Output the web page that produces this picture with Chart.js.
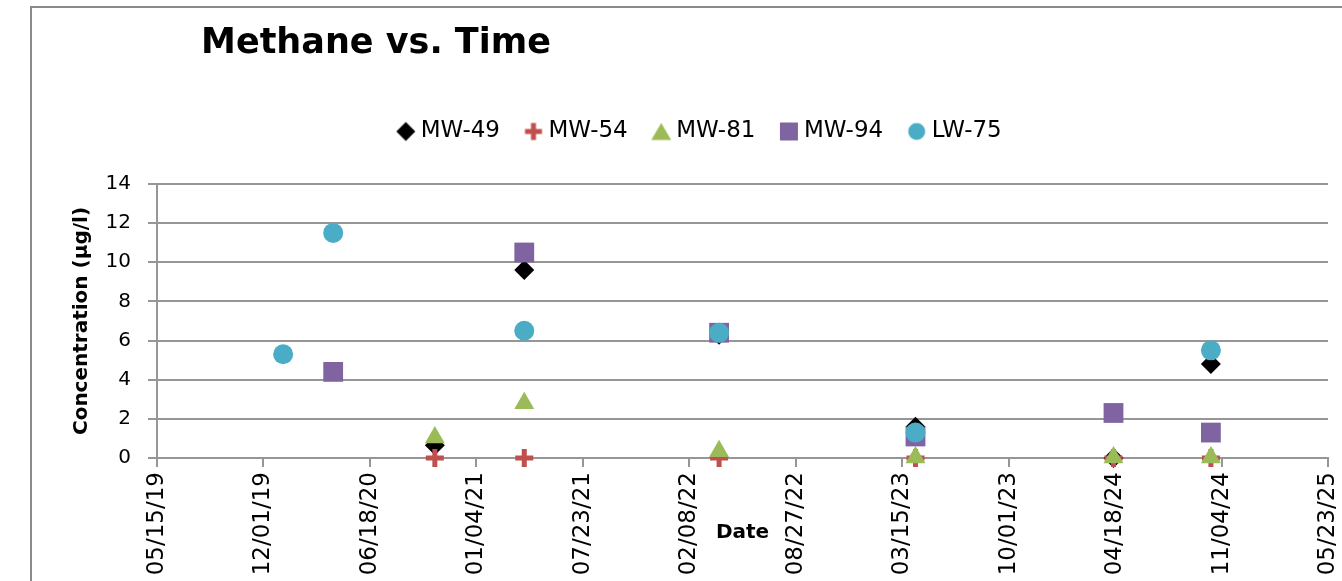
<!DOCTYPE html>
<html lang="en">
<head>
  <meta charset="UTF-8">
  <title>Methane vs. Time</title>
  <script src="https://cdn.jsdelivr.net/npm/chart.js"></script>
  <style>
    body { margin: 0; background: #fff; }
    .chart-box { position: relative; width: 1342px; height: 581px; }
  </style>
</head>
<body>

<div class="chart-box">
  <canvas id="methaneChart"></canvas>
</div>

<script>
  // --- Data (MM/DD/YYYY) ---
  const sampleDates = ['01/07/2020', '04/10/2020', '10/18/2020', '04/04/2021',
                       '04/05/2022', '04/09/2023', '04/15/2024', '10/15/2024'];

  // concentrations in µg/l, null = not sampled
  const mw49 = [null, null, 0.65, 9.6, 6.3, 1.6, 0, 4.8];
  const mw54 = [null, null, 0, 0, 0, 0, 0, 0];
  const mw81 = [null, null, 1.05, 2.8, 0.35, 0.03, 0.03, 0.03];
  const mw94 = [null, 4.4, null, 10.5, 6.4, 1.1, 2.3, 1.3];
  const lw75 = [5.3, 11.5, null, 6.5, 6.4, 1.3, null, 5.5];

  const wellNames = ['MW-49', 'MW-54', 'MW-81', 'MW-94', 'LW-75'];
  const wellColors = ['#000000', '#C0504D', '#9BBB59', '#8064A2', '#4BACC6'];

  // axis range
  const dateAxisStart = '05/15/2019';
  const dateAxisEnd = '05/23/2025';
  const dateStepDays = 200;
  const concMin = 0, concMax = 14, concStep = 2;

  // Excel-style day serials so the 200 day ticks land on the same dates
  const EPOCH = Date.UTC(1899, 11, 30);
  function toSerial(s) {
    const [m, d, y] = s.split('/').map(Number);
    return (Date.UTC(y, m - 1, d) - EPOCH) / 86400000;
  }
  function fmtSerial(v) {
    const dt = new Date(EPOCH + v * 86400000);
    const p = n => String(n).padStart(2, '0');
    return p(dt.getUTCMonth() + 1) + '/' + p(dt.getUTCDate()) + '/' + p(dt.getUTCFullYear() % 100);
  }
  function points(values) {
    return values.map((v, i) => ({ x: toSerial(sampleDates[i]), y: v }));
  }

  // small legend symbols (the legend ones are not scaled like the plot markers)
  function legendIcon(shape, color) {
    const c = document.createElement('canvas');
    c.width = 22; c.height = 22;
    const g = c.getContext('2d');
    const m = 11;
    g.fillStyle = color;
    g.beginPath();
    if (shape === 'diamond') {
      g.moveTo(m - 9.5, m); g.lineTo(m, m - 9.5); g.lineTo(m + 9.5, m); g.lineTo(m, m + 9.5);
      g.closePath(); g.fill();
    } else if (shape === 'plus') {
      g.fillRect(m - 8.5, m - 2.5, 17, 5);
      g.fillRect(m - 2.5, m - 8.5, 5, 17);
    } else if (shape === 'triangle') {
      g.moveTo(m, m - 8.5); g.lineTo(m + 10, m + 8.5); g.lineTo(m - 10, m + 8.5);
      g.closePath(); g.fill();
    } else if (shape === 'square') {
      g.fillRect(m - 9, m - 9, 18, 18);
    } else {
      g.arc(m, m, 8.5, 0, Math.PI * 2); g.fill();
    }
    return c;
  }
  const legendIcons = ['diamond', 'plus', 'triangle', 'square', 'circle']
    .map((s, i) => legendIcon(s, wellColors[i]));

  const FONT = "'DejaVu Sans', sans-serif";
  const GRID = '#969696';
  Chart.defaults.font.family = FONT;
  Chart.defaults.color = '#000';

  // outer frame + white background
  const framePlugin = {
    id: 'frame',
    beforeDraw(chart) {
      const ctx = chart.ctx;
      ctx.save();
      ctx.fillStyle = '#fff';
      ctx.fillRect(0, 0, chart.width, chart.height);
      ctx.strokeStyle = '#8a8a8a';
      ctx.lineWidth = 2;
      ctx.strokeRect(31, 7, chart.width + 20, chart.height + 20);
      ctx.restore();
    }
  };

  // title sits left of centre, like the original
  const titlePlugin = {
    id: 'leftTitle',
    afterDraw(chart) {
      const ctx = chart.ctx;
      ctx.save();
      ctx.font = 'bold 35px ' + FONT;
      ctx.fillStyle = '#000';
      ctx.textAlign = 'center';
      ctx.textBaseline = 'alphabetic';
      ctx.fillText('Methane vs. Time', 376, 53);
      ctx.restore();
    }
  };

  // make the legend box tall enough to push the plot down
  const legendGap = {
    id: 'legendGap',
    beforeLayout(chart) {
      const lg = chart.legend;
      if (!lg || lg._gapPatched) return;
      const fit = lg.fit;
      lg.fit = function () {
        fit.call(this);
        this.height = 94;
      };
      lg._gapPatched = true;
    }
  };

  const ctx = document.getElementById('methaneChart').getContext('2d');

  new Chart(ctx, {
    type: 'scatter',
    data: {
      datasets: [
        {
          label: wellNames[0], data: points(mw49), order: 5, clip: false,
          pointStyle: 'rectRot', pointRadius: 10, pointHoverRadius: 10,
          backgroundColor: wellColors[0], borderColor: wellColors[0], pointBorderWidth: 0
        },
        {
          label: wellNames[1], data: points(mw54), order: 4, clip: false,
          pointStyle: 'cross', pointRadius: 9, pointHoverRadius: 9,
          backgroundColor: wellColors[1], borderColor: wellColors[1], pointBorderWidth: 5
        },
        {
          label: wellNames[2], data: points(mw81), order: 3, clip: false,
          pointStyle: 'triangle', pointRadius: 11.5, pointHoverRadius: 11.5,
          backgroundColor: wellColors[2], borderColor: wellColors[2], pointBorderWidth: 0
        },
        {
          label: wellNames[3], data: points(mw94), order: 2, clip: false,
          pointStyle: 'rect', pointRadius: 14, pointHoverRadius: 14,
          backgroundColor: wellColors[3], borderColor: wellColors[3], pointBorderWidth: 0
        },
        {
          label: wellNames[4], data: points(lw75), order: 1, clip: false,
          pointStyle: 'circle', pointRadius: 10, pointHoverRadius: 10,
          backgroundColor: wellColors[4], borderColor: wellColors[4], pointBorderWidth: 0
        }
      ]
    },
    options: {
      responsive: true,
      maintainAspectRatio: false,
      animation: false,
      layout: { padding: { top: 90, left: 66, right: 4, bottom: 0 } },
      plugins: {
        tooltip: { enabled: false },
        legend: {
          position: 'top',
          labels: {
            usePointStyle: true,
            boxWidth: 7,
            boxHeight: 13,
            padding: 30,
            color: '#000',
            font: { size: 23 },
            generateLabels: chart => Chart.defaults.plugins.legend.labels.generateLabels(chart)
              .map(item => Object.assign(item, { pointStyle: legendIcons[item.datasetIndex] })),
            sort: (a, b) => a.datasetIndex - b.datasetIndex
          }
        }
      },
      scales: {
        x: {
          type: 'linear',
          min: toSerial(dateAxisStart),
          max: toSerial(dateAxisEnd),
          afterFit: scale => {
            scale.height = 123;
            scale.paddingLeft = 0;
            scale.paddingRight = 14;
          },
          ticks: {
            stepSize: dateStepDays,
            autoSkip: false,
            minRotation: 90,
            maxRotation: 90,
            padding: 5,
            font: { size: 23 },
            color: '#000',
            callback: v => fmtSerial(v)
          },
          grid: { drawOnChartArea: false, drawTicks: true, tickLength: 9, color: GRID, lineWidth: 2 },
          border: { display: true, color: GRID, width: 2 },
          title: {
            display: true,
            text: 'Date',
            font: { size: 20, weight: 'bold' },
            color: '#000',
            padding: { top: 0, bottom: 36 }
          }
        },
        y: {
          min: concMin,
          max: concMax,
          afterFit: scale => { scale.width = 91; },
          ticks: { stepSize: concStep, padding: 17, font: { size: 20 }, color: '#000' },
          grid: { color: GRID, lineWidth: 2, tickLength: 9 },
          border: { display: true, color: GRID, width: 2 },
          title: {
            display: true,
            text: 'Concentration (µg/l)',
            font: { size: 20, weight: 'bold' },
            color: '#000',
            padding: { top: 4, bottom: 0 }
          }
        }
      }
    },
    plugins: [framePlugin, titlePlugin, legendGap]
  });
</script>

</body>
</html>
